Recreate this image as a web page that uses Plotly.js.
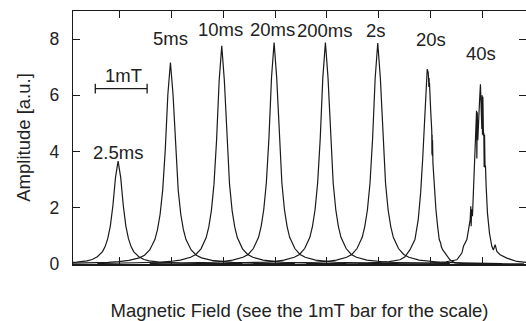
<!DOCTYPE html>
<html><head><meta charset="utf-8">
<script src="https://cdn.plot.ly/plotly-3.0.1.min.js"></script>
<style>html,body{margin:0;padding:0;background:#fff}</style>
</head><body><div id="chart" style="width:526px;height:321px"></div>
<script>
// ---- data ----
const peakNames = ["2.5ms", "5ms", "10ms", "20ms", "200ms", "2s", "20s", "40s"];
// smooth peaks: centre (mT) and sampled profile at offsets from centre
const smoothCenters = [0.97, 1.98, 2.97, 3.98, 4.97, 5.98];
const offsets = [-2.4,-2.0,-1.6,-1.2,-1.0,-0.8,-0.6,-0.5,-0.4,-0.3,-0.25,-0.2,-0.15,-0.1,-0.05,0,0.05,0.1,0.15,0.2,0.25,0.3,0.4,0.5,0.6,0.8,1.0,1.2,1.6,2.0,2.4];
const amp2_5ms = [0.01,0.012,0.02,0.03,0.042,0.065,0.11,0.16,0.26,0.44,0.62,0.9,1.35,2.08,3.08,3.66,3.08,2.08,1.35,0.9,0.62,0.44,0.26,0.16,0.11,0.065,0.042,0.03,0.02,0.012,0.01];
const amp5ms   = [0.016,0.022,0.034,0.058,0.083,0.13,0.22,0.31,0.5,0.87,1.22,1.76,2.62,4.06,6.03,7.17,6.03,4.06,2.62,1.76,1.22,0.87,0.5,0.31,0.22,0.13,0.083,0.058,0.034,0.022,0.016];
const amp10ms  = [0.017,0.024,0.036,0.062,0.09,0.14,0.24,0.34,0.54,0.94,1.32,1.9,2.84,4.4,6.53,7.76,6.53,4.4,2.84,1.9,1.32,0.94,0.54,0.34,0.24,0.14,0.09,0.062,0.036,0.024,0.017];
const amp20ms  = [0.017,0.024,0.037,0.063,0.09,0.14,0.24,0.34,0.55,0.95,1.34,1.93,2.88,4.46,6.63,7.88,6.63,4.46,2.88,1.93,1.34,0.95,0.55,0.34,0.24,0.14,0.09,0.063,0.037,0.024,0.017];
const amp200ms = [0.017,0.024,0.037,0.063,0.09,0.14,0.24,0.34,0.55,0.95,1.34,1.93,2.88,4.46,6.63,7.88,6.63,4.46,2.88,1.93,1.34,0.95,0.55,0.34,0.24,0.14,0.09,0.063,0.037,0.024,0.017];
const amp2s    = [0.017,0.024,0.037,0.063,0.09,0.14,0.24,0.34,0.55,0.95,1.34,1.92,2.87,4.45,6.61,7.86,6.61,4.45,2.87,1.92,1.34,0.95,0.55,0.34,0.24,0.14,0.09,0.063,0.037,0.024,0.017];
// noisy peaks, sampled directly
const field20s = [4.6,5.0,5.4,5.8,6.0,6.2,6.408,6.5,6.6,6.697,6.761,6.807,6.846,6.877,6.909,6.934,6.954,6.962,6.966,6.970,6.974,6.978,7.0,7.019,7.022,7.025,7.029,7.033,7.037,7.044,7.069,7.102,7.135,7.166,7.193,7.205,7.231,7.276,7.372,7.469,7.6,8.0,8.8];
const amp20s   = [0.012,0.016,0.024,0.04,0.055,0.085,0.15,0.25,0.5,0.87,1.58,2.53,3.72,4.9,6.1,6.93,6.81,6.64,6.3,6.62,6.3,6.45,5.5,4.79,4.73,3.9,4.6,3.84,4.4,3.6,2.77,1.94,1.34,0.87,0.75,0.62,0.51,0.39,0.15,0.04,0.02,0.01,0.005];
const field40s = [5.6,6.0,6.6,7.0,7.3,7.506,7.603,7.634,7.699,7.730,7.763,7.775,7.782,7.79,7.807,7.826,7.859,7.879,7.886,7.892,7.900,7.910,7.923,7.942,7.961,7.970,7.981,7.988,7.994,8.000,8.008,8.019,8.026,8.033,8.040,8.050,8.058,8.071,8.096,8.135,8.181,8.21,8.245,8.278,8.341,8.47,8.663,8.843];
const amp40s   = [0.008,0.01,0.02,0.04,0.08,0.15,0.39,0.63,0.87,1.22,1.58,2.05,1.34,1.95,1.7,2.53,3.72,4.79,5.45,3.75,5.4,4.4,5.3,5.74,6.39,5.9,5.74,4.8,6.0,4.6,5.95,4.55,4.67,3.45,4.6,3.42,3.5,2.77,1.82,1.1,0.63,0.5,0.69,0.45,0.33,0.21,0.09,0.06];
// 1 mT scale bar
const scaleBarField = [0.53, 1.53];
const scaleBarAmp = [6.24, 6.24];
const scaleBarLabel = "1mT";
const yTicks = [0, 2, 4, 6, 8];
const xTicks = [1, 2, 3, 4, 5, 6, 7, 8];

// ---- layout config ----
const labelAnchors = [[0.975,3.98],[1.98,8.02],[2.95,8.33],[3.95,8.33],[4.97,8.29],[5.94,8.29],[7.0,7.97],[7.97,7.5]];
const ink = "#1a1a1a";
const txt = "#222";
const FONT = "Liberation Sans, Arial, Helvetica, sans-serif";
const LBL = 18.5;

const smoothAmps = [amp2_5ms, amp5ms, amp10ms, amp20ms, amp200ms, amp2s];
const traces = [];
smoothAmps.forEach((amps, i) => {
  traces.push({
    type: "scatter", mode: "lines", name: peakNames[i],
    x: offsets.map(o => smoothCenters[i] + o), y: amps,
    line: {color: ink, width: 1.2}, hoverinfo: "skip"
  });
});
traces.push({type:"scatter", mode:"lines", name: peakNames[6], x: field20s, y: amp20s, line:{color: ink, width: 1.2}});
traces.push({type:"scatter", mode:"lines", name: peakNames[7], x: field40s, y: amp40s, line:{color: ink, width: 1.2}});
traces.push({type:"scatter", mode:"lines+markers", name:"scale", x: scaleBarField, y: scaleBarAmp,
  line:{color: ink, width: 1.3}, marker:{symbol:"line-ns-open", size:7, color: ink, line:{color: ink, width:1.3}}});

const annotations = peakNames.map((t, i) => ({
  text: t, x: labelAnchors[i][0], y: labelAnchors[i][1], xref: "x", yref: "y",
  showarrow: false, font: {family: FONT, size: LBL, color: txt}, xanchor: "center", yanchor: "middle"
}));
annotations.push({text: scaleBarLabel, x: 1.08, y: 6.71, xref:"x", yref:"y", showarrow:false,
  font:{family: FONT, size: LBL, color: txt}, xanchor:"center", yanchor:"middle"});

const layout = {
  width: 526, height: 321,
  margin: {l: 72.5, r: 0, t: 11, b: 56.7, pad: 0},
  paper_bgcolor: "#fff", plot_bgcolor: "#fff",
  showlegend: false,
  font: {family: FONT, size: 17.5, color: txt},
  xaxis: {
    range: [0.1, 8.84], tickvals: xTicks, showticklabels: false,
    ticks: "inside", ticklen: 7, tickwidth: 1, tickcolor: ink,
    showline: true, linecolor: ink, linewidth: 1.5, mirror: "ticks",
    showgrid: false, zeroline: false,
    title: {text: "Magnetic Field (see the 1mT bar for the scale)", font: {family: FONT, size: LBL, color: txt}, standoff: 41}
  },
  yaxis: {
    range: [0, 9], tickvals: yTicks,
    ticks: "inside", ticklen: 7, tickwidth: 1, tickcolor: ink,
    ticklabelstandoff: 9,
    showline: true, linecolor: ink, linewidth: 1.3, mirror: "ticks",
    showgrid: false, zeroline: false,
    tickfont: {family: FONT, size: 17.5, color: txt},
    title: {text: "Amplitude [a.u.]", font: {family: FONT, size: LBL, color: txt}, standoff: 14}
  },
  annotations: annotations
};
Plotly.newPlot("chart", traces, layout, {displayModeBar: false, staticPlot: true});
</script></body></html>
